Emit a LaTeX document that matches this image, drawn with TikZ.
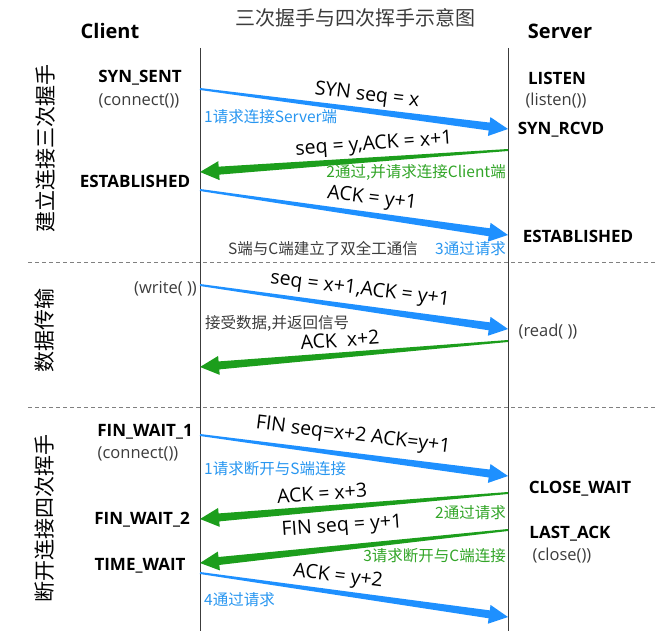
\documentclass[tikz,border=0pt]{standalone}
\usepackage{fontspec}
\setmainfont{Noto Sans CJK SC}
\newfontfamily\latinfont{Open Sans}
\usetikzlibrary{calc}

\definecolor{synblue}{RGB}{30,144,255}
\definecolor{ackgreen}{RGB}{28,158,28}
\definecolor{noteblue}{RGB}{40,150,240}
\definecolor{notegreen}{RGB}{50,165,40}
\definecolor{inkgray}{RGB}{60,60,60}

\tikzset{
  side/.style={font=\latinfont\bfseries\fontsize{20}{22}\selectfont, inner sep=0pt},
  state/.style={font=\latinfont\bfseries\fontsize{17}{19}\selectfont, inner sep=0pt},
  call/.style={font=\latinfont\fontsize{16.5}{18}\selectfont, text=inkgray, inner sep=0pt},
  msg/.style={font=\latinfont\fontsize{19.5}{21}\selectfont, inner sep=0pt},
  note/.style={font=\fontsize{15.5}{17}\selectfont, inner sep=0pt},
  phase/.style={font=\fontsize{21}{23}\selectfont, rotate=90, inner sep=0pt},
  lifeline/.style={draw=inkgray, line width=0.8pt},
  divider/.style={draw=gray, line width=0.8pt, dash pattern=on 4pt off 3pt},
}

\newcommand{\taperarrow}[3]{%
  \coordinate (tb) at ($(#3)!19pt!(#2)$);
  \fill[#1] ($(#2)!1pt!90:(#3)$) -- ($(tb)!4pt!-90:(#2)$) -- ($(tb)!9.5pt!-90:(#2)$)
    -- (#3) -- ($(tb)!9.5pt!90:(#2)$) -- ($(tb)!4pt!90:(#2)$) -- ($(#2)!1pt!-90:(#3)$) -- cycle;
}

\begin{document}
\begin{tikzpicture}[x=1pt, y=-1pt]
\useasboundingbox (0,0) rectangle (658,631);

\node[font=\fontsize{20}{22}\selectfont, text=inkgray] (title) at (355,18) {三次握手与四次挥手示意图};
\node[side] (client) at (110,31) {Client};
\node[side] (server) at (560,31) {Server};

\coordinate (cTop) at (200,48);
\coordinate (cBot) at (200,631);
\coordinate (sTop) at (508,48);
\coordinate (sBot) at (508,631);
\draw[lifeline] (cTop) -- (cBot);
\draw[lifeline] (sTop) -- (sBot);

\coordinate (d1a) at (28,262);
\coordinate (d1b) at (658,262);
\coordinate (d2a) at (28,407);
\coordinate (d2b) at (658,407);
\draw[divider] (d1a) -- (d1b);
\draw[divider] (d2a) -- (d2b);

\node[phase] (connect) at (45,148) {建立连接三次握手};
\node[phase] (transfer) at (45,330) {数据传输};
\node[phase] (close) at (45,518) {断开连接四次挥手};

\node[state] (synsent) at (140,78) {SYN\_SENT};
\node[call] (connA) at (139,101) {(connect())};
\node[state] (estC) at (135,181) {ESTABLISHED};
\node[call, anchor=east] (write) at (197,289) {(write( ))};
\node[state] (fw1) at (145,432) {FIN\_WAIT\_1};
\node[call] (connB) at (138,454) {(connect())};
\node[state] (fw2) at (142,520) {FIN\_WAIT\_2};
\node[state] (tw) at (140,566) {TIME\_WAIT};

\node[state] (listen) at (557,78) {LISTEN};
\node[call] (listenc) at (556,101) {(listen())};
\node[state] (synrcvd) at (561,130) {SYN\_RCVD};
\node[state] (estS) at (578,236) {ESTABLISHED};
\node[call] (read) at (548,332) {(read( ))};
\node[state] (cw) at (580,489) {CLOSE\_WAIT};
\node[state] (lack) at (570,534) {LAST\_ACK};
\node[call] (closec) at (562,556) {(close())};

\coordinate (a1s) at (200,89);   \coordinate (a1e) at (508,129);
\coordinate (a2s) at (508,150);  \coordinate (a2e) at (200,172);
\coordinate (a3s) at (200,190);  \coordinate (a3e) at (508,235);
\coordinate (a4s) at (200,285);  \coordinate (a4e) at (508,329);
\coordinate (a5s) at (508,341);  \coordinate (a5e) at (200,367);
\coordinate (a6s) at (200,435);  \coordinate (a6e) at (508,476);
\coordinate (a7s) at (508,493);  \coordinate (a7e) at (200,519);
\coordinate (a8s) at (508,530);  \coordinate (a8e) at (200,563);
\coordinate (a9s) at (200,573);  \coordinate (a9e) at (508,617);

\taperarrow{synblue}{a1s}{a1e}
\taperarrow{ackgreen}{a2s}{a2e}
\taperarrow{synblue}{a3s}{a3e}
\taperarrow{synblue}{a4s}{a4e}
\taperarrow{ackgreen}{a5s}{a5e}
\taperarrow{synblue}{a6s}{a6e}
\taperarrow{ackgreen}{a7s}{a7e}
\taperarrow{ackgreen}{a8s}{a8e}
\taperarrow{synblue}{a9s}{a9e}

\node[msg, rotate=-7] (m1) at (367,96) {SYN seq = x};
\node[msg, rotate=4] (m2) at (374,145) {seq = y,ACK = x+1};
\node[msg, rotate=-7] (m3) at (372,199) {ACK = y+1};
\node[msg, rotate=-7] (m4) at (360,290) {seq = x+1,ACK = y+1};
\node[msg, rotate=4] (m5) at (340,340) {ACK\ \ x+2};
\node[msg, rotate=-7] (m6) at (353,436) {FIN seq=x+2 ACK=y+1};
\node[msg, rotate=4] (m7) at (322,493) {ACK = x+3};
\node[msg, rotate=4] (m8) at (342,527) {FIN seq = y+1};
\node[msg, rotate=-7] (m9) at (338,577) {ACK = y+2};

\node[note, text=noteblue, anchor=west] (n1) at (204,117) {1请求连接Server端};
\node[note, text=notegreen, anchor=east] (n2) at (506,172) {2通过,并请求连接Client端};
\node[note, text=inkgray, anchor=west] (n3) at (228,249) {S端与C端建立了双全工通信};
\node[note, text=noteblue, anchor=east] (n4) at (506,249) {3通过请求};
\node[note, text=inkgray, anchor=west] (n5) at (205,323) {接受数据,并返回信号};
\node[note, text=noteblue, anchor=west] (n6) at (204,469) {1请求断开与S端连接};
\node[note, text=notegreen, anchor=east] (n7) at (506,513) {2通过请求};
\node[note, text=notegreen, anchor=east] (n8) at (506,556) {3请求断开与C端连接};
\node[note, text=noteblue, anchor=west] (n9) at (204,600) {4通过请求};
\end{tikzpicture}
\end{document}
